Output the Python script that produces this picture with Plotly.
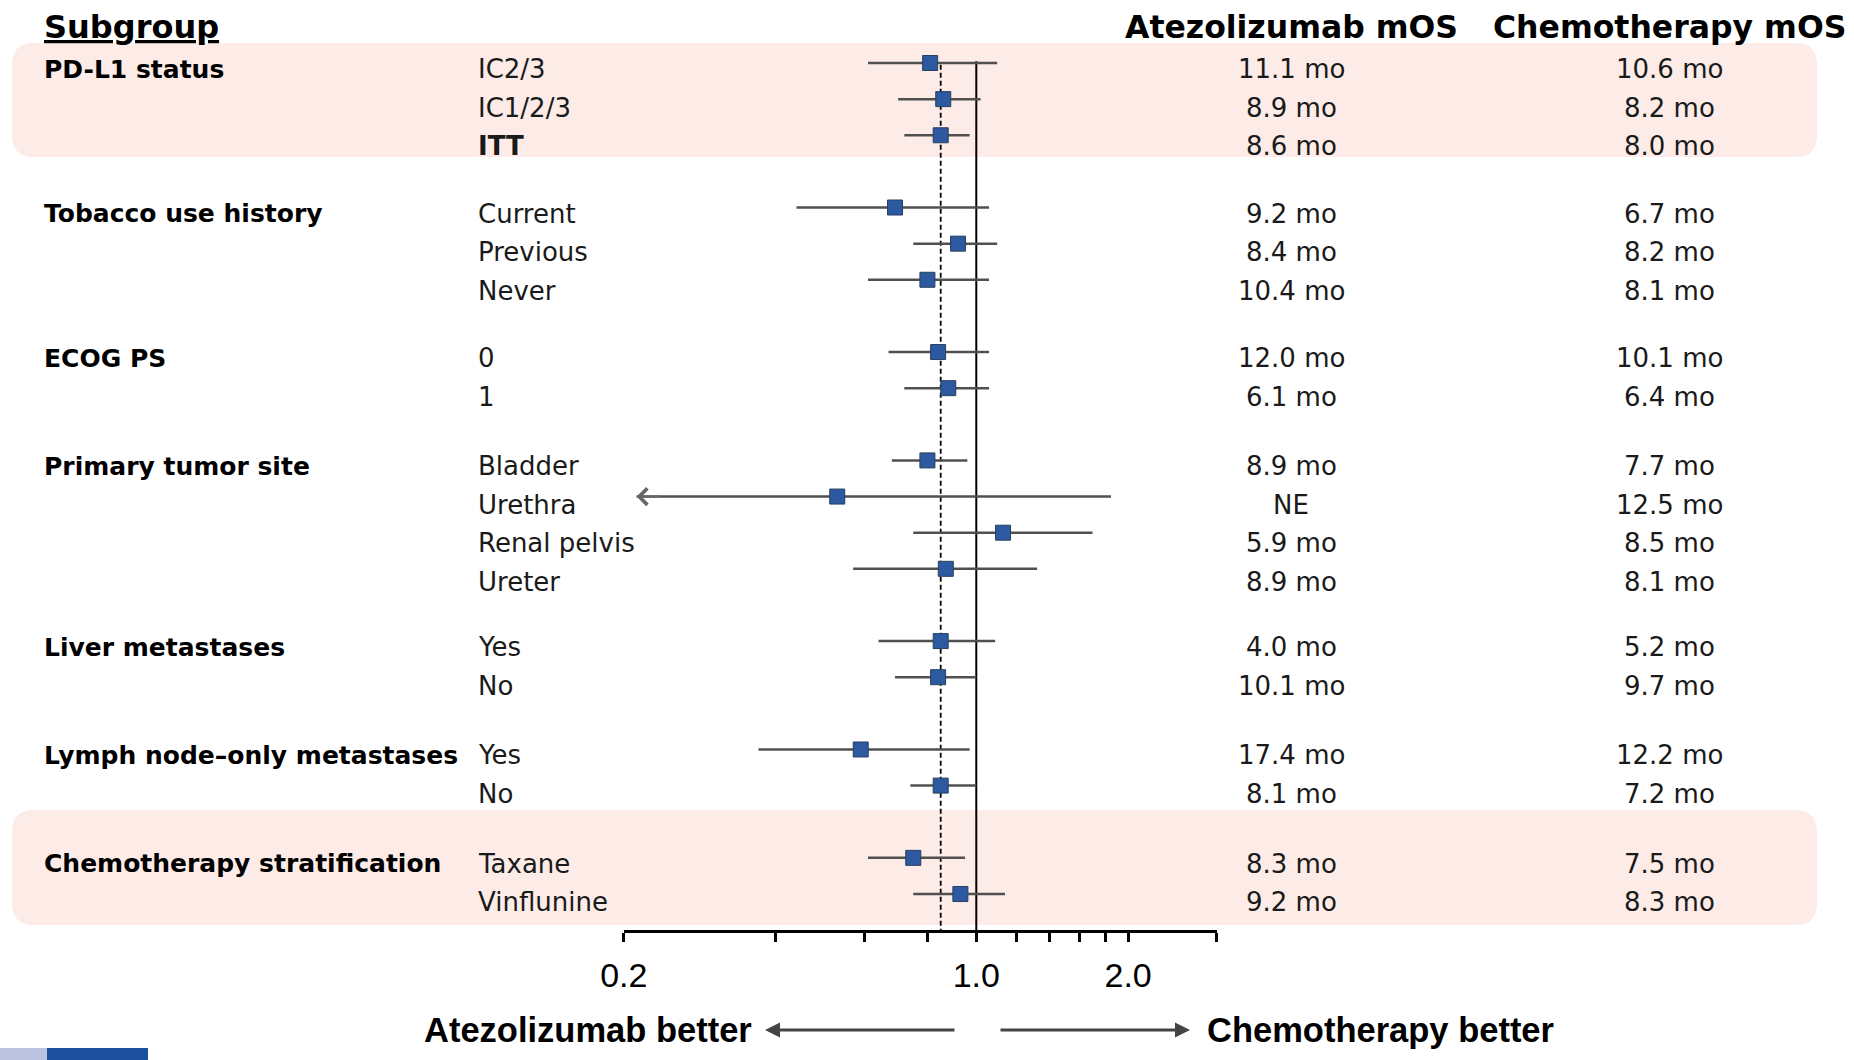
import math
import plotly.graph_objects as go

# ---------------- data ----------------
groups = ["PD-L1 status", "Tobacco use history", "ECOG PS", "Primary tumor site",
          "Liver metastases", "Lymph node\u2013only metastases", "Chemotherapy stratification"]
group_sizes = [3, 3, 2, 4, 2, 2, 2]
subgroups = ["IC2/3", "IC1/2/3", "ITT", "Current", "Previous", "Never", "0", "1",
             "Bladder", "Urethra", "Renal pelvis", "Ureter", "Yes", "No", "Yes", "No",
             "Taxane", "Vinflunine"]
bold_subgroups = ["ITT"]
hazard_ratio = [0.81, 0.86, 0.85, 0.69, 0.92, 0.80, 0.84, 0.88, 0.80, 0.53, 1.13, 0.87,
                0.85, 0.84, 0.59, 0.85, 0.75, 0.93]
ci_low = [0.61, 0.70, 0.72, 0.44, 0.75, 0.61, 0.67, 0.72, 0.68, 0.212, 0.75, 0.57,
          0.64, 0.69, 0.37, 0.74, 0.61, 0.75]
ci_high = [1.10, 1.02, 0.97, 1.06, 1.10, 1.06, 1.06, 1.06, 0.96, 1.85, 1.70, 1.32,
           1.09, 1.00, 0.97, 1.00, 0.95, 1.14]
ci_low_truncated = [False, False, False, False, False, False, False, False, False, True,
                    False, False, False, False, False, False, False, False]
atezolizumab_mos = ["11.1 mo", "8.9 mo", "8.6 mo", "9.2 mo", "8.4 mo", "10.4 mo", "12.0 mo",
                    "6.1 mo", "8.9 mo", "NE", "5.9 mo", "8.9 mo", "4.0 mo", "10.1 mo",
                    "17.4 mo", "8.1 mo", "8.3 mo", "9.2 mo"]
chemotherapy_mos = ["10.6 mo", "8.2 mo", "8.0 mo", "6.7 mo", "8.2 mo", "8.1 mo", "10.1 mo",
                    "6.4 mo", "7.7 mo", "12.5 mo", "8.5 mo", "8.1 mo", "5.2 mo", "9.7 mo",
                    "12.2 mo", "7.2 mo", "7.5 mo", "8.3 mo"]
itt_hr = 0.85
reference_hr = 1.0
x_tick_values = [0.2, 0.4, 0.6, 0.8, 1.0, 1.2, 1.4, 1.6, 1.8, 2.0, 3.0]
x_tick_labels = ["0.2", "", "", "", "1.0", "", "", "", "", "2.0", ""]
header_subgroup = "Subgroup"
header_atezo = "Atezolizumab mOS"
header_chemo = "Chemotherapy mOS"
label_left = "Atezolizumab better"
label_right = "Chemotherapy better"

# ---------------- layout constants ----------------
W, H = 1854, 1060
AXIS_PX = 930
ROW0_PX = 63.0
ROW_STEP = 36.13
X_MIN, X_MAX = 0.2, 3.0
X_LEFT_PX, X_RIGHT_PX = 623.8, 1216.9

REG = "DejaVu Sans"
ARIAL = "Liberation Sans, Arial, sans-serif"


def px_x(px):
    return px / W


def px_y(py):
    return (AXIS_PX - py) / AXIS_PX


# row positions (blank row between groups); text sits slightly below the marks
row_pos = []
row_shift = []
group_first_row = []
r = 0
for n in group_sizes:
    group_first_row.append(r)
    for k in range(n):
        row_pos.append(r)
        row_shift.append(-(6 + 2.4 * k))
        r += 1
    r += 1

y_bottom = (AXIS_PX - ROW0_PX) / ROW_STEP
y_top = -ROW0_PX / ROW_STEP

fig = go.Figure()

# reference lines
fig.add_trace(go.Scatter(x=[reference_hr, reference_hr], y=[-0.05, y_bottom], mode="lines",
                         line=dict(color="black", width=2), hoverinfo="skip", showlegend=False))
fig.add_trace(go.Scatter(x=[itt_hr, itt_hr], y=[0.05, y_bottom], mode="lines",
                         line=dict(color="black", width=1.8, dash="5px,3px"),
                         hoverinfo="skip", showlegend=False))

# CI lines
cx, cy = [], []
for lo, hi, yy in zip(ci_low, ci_high, row_pos):
    cx += [lo, hi, None]
    cy += [yy, yy, None]
fig.add_trace(go.Scatter(x=cx, y=cy, mode="lines", line=dict(color="#505050", width=2.5),
                         hoverinfo="skip", showlegend=False))

# point estimates
fig.add_trace(go.Scatter(x=hazard_ratio, y=row_pos, mode="markers",
                         marker=dict(symbol="square", size=15, color="#2D59A0",
                                     line=dict(color="#27405F", width=1)),
                         showlegend=False))

annotations = []
# truncated CI arrow
for lo, yy, tr in zip(ci_low, row_pos, ci_low_truncated):
    if tr:
        annotations.append(dict(x=math.log10(lo), y=yy, xref="x", yref="y", text="",
                                showarrow=True, ax=25, ay=0, arrowhead=4, arrowsize=1.6,
                                arrowwidth=2, arrowcolor="#666666"))

# group labels
for g, fr in zip(groups, group_first_row):
    annotations.append(dict(x=px_x(42), y=fr, xref="paper", yref="y", xanchor="left",
                            yanchor="middle", yshift=-6, showarrow=False,
                            text="<b>%s</b>" % g, font=dict(family=REG, size=25, color="black")))
# subgroup labels and values
for s, yy, sh, a, c in zip(subgroups, row_pos, row_shift, atezolizumab_mos, chemotherapy_mos):
    t = "<b>%s</b>" % s if s in bold_subgroups else s
    annotations.append(dict(x=px_x(476), y=yy, xref="paper", yref="y", xanchor="left",
                            yanchor="middle", yshift=sh, showarrow=False, text=t,
                            font=dict(family=REG, size=26, color="#1a1a1a")))
    annotations.append(dict(x=px_x(1291), y=yy, xref="paper", yref="y", xanchor="center",
                            yanchor="middle", yshift=sh, showarrow=False, text=a,
                            font=dict(family=REG, size=26, color="#1a1a1a")))
    annotations.append(dict(x=px_x(1669), y=yy, xref="paper", yref="y", xanchor="center",
                            yanchor="middle", yshift=sh, showarrow=False, text=c,
                            font=dict(family=REG, size=26, color="#1a1a1a")))

# headers
annotations.append(dict(x=px_x(42), y=px_y(27), xref="paper", yref="paper", xanchor="left",
                        yanchor="middle", showarrow=False,
                        text="<b><u>%s</u></b>" % header_subgroup,
                        font=dict(family=REG, size=32, color="black")))
annotations.append(dict(x=px_x(1291), y=px_y(27), xref="paper", yref="paper", xanchor="center",
                        yanchor="middle", showarrow=False, text="<b>%s</b>" % header_atezo,
                        font=dict(family=REG, size=31.5, color="black")))
annotations.append(dict(x=px_x(1669), y=px_y(27), xref="paper", yref="paper", xanchor="center",
                        yanchor="middle", showarrow=False, text="<b>%s</b>" % header_chemo,
                        font=dict(family=REG, size=31.5, color="black")))

# bottom direction labels + arrows
annotations.append(dict(x=px_x(765), y=px_y(1030), xref="paper", yref="paper", text="",
                        showarrow=True, ax=191, ay=0, arrowhead=2, arrowsize=1,
                        arrowwidth=3, arrowcolor="#444444"))
annotations.append(dict(x=px_x(1190), y=px_y(1030), xref="paper", yref="paper", text="",
                        showarrow=True, ax=-191, ay=0, arrowhead=2, arrowsize=1,
                        arrowwidth=3, arrowcolor="#444444"))
annotations.append(dict(x=px_x(754), y=px_y(1030), xref="paper", yref="paper", xanchor="right",
                        yanchor="middle", showarrow=False, text="<b>%s</b>" % label_left,
                        font=dict(family=ARIAL, size=34.5, color="black")))
annotations.append(dict(x=px_x(1205), y=px_y(1030), xref="paper", yref="paper", xanchor="left",
                        yanchor="middle", showarrow=False, text="<b>%s</b>" % label_right,
                        font=dict(family=ARIAL, size=34.5, color="black")))


def rounded_rect(x0, y0, x1, y1, rad):
    rx, ry = rad / W, rad / AXIS_PX
    X0, X1 = px_x(x0), px_x(x1)
    Y0, Y1 = px_y(y0), px_y(y1)  # Y0 top, Y1 bottom
    p = (f"M {X0+rx},{Y0} L {X1-rx},{Y0} Q {X1},{Y0} {X1},{Y0-ry} "
         f"L {X1},{Y1+ry} Q {X1},{Y1} {X1-rx},{Y1} L {X0+rx},{Y1} "
         f"Q {X0},{Y1} {X0},{Y1+ry} L {X0},{Y0-ry} Q {X0},{Y0} {X0+rx},{Y0} Z")
    return dict(type="path", path=p, xref="paper", yref="paper", fillcolor="#FCEBE6",
                line=dict(width=0), layer="below")


shapes = [rounded_rect(12, 43, 1817, 157, 22), rounded_rect(12, 810, 1817, 925, 22)]
# footer bars
shapes.append(dict(type="rect", xref="paper", yref="paper", x0=0, x1=px_x(47),
                   y0=px_y(1048), y1=px_y(1060), fillcolor="#BCC3E0", line=dict(width=0)))
shapes.append(dict(type="rect", xref="paper", yref="paper", x0=px_x(47), x1=px_x(148),
                   y0=px_y(1048), y1=px_y(1060), fillcolor="#1C4F9C", line=dict(width=0)))

fig.update_layout(
    template="none",
    width=W, height=H, autosize=False,
    margin=dict(l=0, r=0, t=0, b=H - AXIS_PX, pad=0, autoexpand=False),
    paper_bgcolor="white", plot_bgcolor="rgba(0,0,0,0)",
    showlegend=False,
    annotations=annotations, shapes=shapes,
    xaxis=dict(type="log", range=[math.log10(X_MIN), math.log10(X_MAX)],
               domain=[X_LEFT_PX / W, X_RIGHT_PX / W], automargin=False,
               showline=True, linecolor="black", linewidth=3,
               ticks="outside", ticklen=9, tickwidth=2.5, tickcolor="black",
               tickvals=x_tick_values, ticktext=x_tick_labels, ticklabelstandoff=4,
               tickfont=dict(family=ARIAL, size=34, color="black"),
               showgrid=False, zeroline=False, fixedrange=True),
    yaxis=dict(range=[y_bottom, y_top], visible=False, showgrid=False, zeroline=False,
               automargin=False, fixedrange=True),
)

fig.write_html("out.html")
